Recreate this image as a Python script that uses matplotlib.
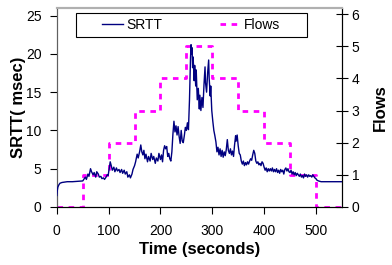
import matplotlib
matplotlib.use("Agg")
import matplotlib.pyplot as plt
from matplotlib.patches import Rectangle

# SRTT samples (time in s, SRTT in ms)
time_s = [0, 1, 2, 4, 6, 10, 15, 20, 30, 40, 50,
          52, 55, 57, 60, 62, 65, 67, 70, 72, 75, 77, 80, 82, 85, 87, 90, 92, 95, 97, 99,
          101, 103, 105, 107, 110, 112, 115, 117, 120, 122, 125, 127, 130, 132, 135, 137,
          140, 142, 145, 147, 150, 152, 155, 157, 160, 162, 164, 166, 168, 170, 172, 175,
          177, 180, 182, 185, 187, 190, 192, 195, 197, 200, 202, 204, 206, 208, 210, 212,
          214, 216, 218, 220, 222, 224, 226, 228, 230, 232, 234, 236, 238, 240, 242, 244,
          246, 248, 250, 252, 254, 256, 258, 259, 260, 261, 262, 263, 265, 266, 268, 269,
          271, 273, 275, 276, 278, 280, 282, 284, 286, 287, 289, 291, 293, 294, 296, 297,
          299, 301, 303, 305, 307, 309, 311, 313, 315, 317, 319, 321, 323, 325, 327, 329,
          331, 333, 335, 337, 339, 341, 343, 345, 346, 348, 350, 352, 354, 356, 358, 360,
          362, 364, 366, 368, 370, 372, 374, 376, 378, 380, 382, 384, 386, 388, 390, 392,
          394, 396, 398, 400, 402, 404, 406, 408, 410, 412, 414, 416, 418, 420, 422, 424,
          426, 428, 430, 432, 434, 436, 438, 440, 442, 444, 446, 448, 450, 452, 454, 456,
          458, 460, 462, 464, 466, 468, 470, 472, 474, 476, 478, 480, 482, 484, 486, 488,
          490, 492, 494, 496, 498, 500, 502, 505, 510, 550]
srtt_ms = [1.5, 2.2, 2.6, 2.9, 3.1, 3.2, 3.25, 3.3, 3.3, 3.35, 3.4,
           3.6, 3.9, 3.6, 4.3, 4.0, 5.0, 4.6, 4.2, 4.5, 3.9, 4.6, 4.3, 3.9, 4.0, 3.7, 3.8, 3.6, 3.9, 4.2, 4.1,
           5.0, 5.9, 5.4, 4.8, 5.2, 4.6, 5.1, 4.7, 4.9, 4.5, 4.9, 4.4, 4.8, 4.3, 4.6, 3.9,
           4.2, 3.8, 4.3, 4.9, 5.4, 5.9, 6.9, 6.4, 7.3, 8.1, 7.2, 6.8, 7.4, 6.3, 6.9, 5.9,
           6.6, 6.0, 7.0, 6.2, 6.6, 5.7, 6.4, 6.0, 7.0, 6.2, 6.8, 5.9, 7.4, 8.0, 7.6, 7.9,
           6.6, 7.0, 6.3, 6.0, 7.2, 9.5, 11.2, 9.8, 10.6, 9.4, 10.5, 9.2, 8.3, 10.0, 8.6, 8.4,
           9.3, 10.4, 10.0, 11.0, 10.1, 14.0, 19.5, 21.2, 20.0, 20.8, 18.2, 19.6, 16.5, 18.5, 15.8, 17.9,
           14.0, 15.5, 12.8, 14.6, 12.6, 14.3, 13.0, 16.0, 18.3, 16.2, 15.0, 17.5, 19.2, 16.8, 14.5, 15.8,
           12.6, 11.2, 10.0, 9.3, 8.5, 7.2, 7.8, 6.8, 7.6, 6.6, 7.4, 6.5, 7.2, 6.7, 7.5, 8.8,
           7.4, 7.0, 7.6, 6.8, 7.3, 6.6, 8.1, 9.3, 8.6, 9.4, 8.0, 7.0, 6.8, 6.0, 5.6, 6.0,
           5.4, 5.8, 5.5, 5.9, 5.6, 6.0, 6.3, 6.1, 6.8, 7.4, 7.0, 6.0, 5.7, 5.9, 5.5, 5.7,
           5.4, 5.9, 5.7, 5.2, 4.8, 5.1, 4.6, 5.0, 4.7, 5.0, 4.7, 5.1, 4.6, 4.9, 4.6, 5.0,
           4.5, 4.8, 4.4, 4.9, 4.6, 4.8, 4.3, 4.9, 5.1, 4.7, 5.0, 4.6, 4.5, 4.8, 4.3, 4.6,
           4.2, 4.5, 4.1, 4.4, 4.2, 4.0, 4.3, 3.9, 4.1, 3.8, 4.3, 4.0, 4.2, 3.9, 4.2, 4.0,
           4.1, 3.9, 4.2, 4.0, 3.8, 3.7, 3.5, 3.4, 3.3, 3.3]

# number of active flows (step changes every 50 s)
flow_time = [0, 50, 100, 150, 200, 250, 300, 350, 400, 450, 500, 550]
flow_count = [0, 1, 2, 3, 4, 5, 4, 3, 2, 1, 0, 0]

plt.rcParams["font.family"] = ["Liberation Sans", "DejaVu Sans"]
plt.rcParams["font.size"] = 10

fig = plt.figure(figsize=(3.92, 2.65), dpi=100)
ax = fig.add_axes([0.145, 0.219, 0.727, 0.751])
ax2 = ax.twinx()

l1, = ax.plot(time_s, srtt_ms, color="#000080", linewidth=1.0, label="SRTT", zorder=3)
l2, = ax2.step(flow_time, flow_count, where="post", color="#ff00ff", linewidth=2.0,
               linestyle=(0, (2, 2)), label="Flows", zorder=2)
ax.set_zorder(ax2.get_zorder() + 1)
ax.patch.set_visible(False)

ax.set_xlim(0, 550)
ax.set_ylim(0, 26)
ax2.set_ylim(0, 6.19)
ax.set_xticks([0, 100, 200, 300, 400, 500])
ax.set_yticks([0, 5, 10, 15, 20, 25])
ax2.set_yticks([0, 1, 2, 3, 4, 5, 6])

ax.set_xlabel("Time (seconds)", fontsize=12, fontweight="bold", labelpad=3)
ax.set_ylabel("SRTT( msec)", fontsize=12, fontweight="bold", labelpad=0)
ax2.set_ylabel("Flows", fontsize=12, fontweight="bold", labelpad=10)

ax.tick_params(axis="both", direction="out", length=5, width=0.8, pad=6)
ax.tick_params(axis="x", pad=7)
ax2.tick_params(axis="y", direction="inout", length=8, width=0.8, pad=3)

for a in (ax, ax2):
    a.spines["top"].set_color("#b0b0b0")
    a.spines["top"].set_linewidth(1.5)
    a.spines["left"].set_color("#606060")
    a.spines["right"].set_color("black")
    a.spines["bottom"].set_color("black")

# legend box drawn separately so the entries sit centred in a wide frame
ax.add_patch(Rectangle((0.067, 0.855), 0.81, 0.12, transform=ax.transAxes,
                       facecolor="white", edgecolor="black", linewidth=0.8,
                       clip_on=False, zorder=5))
leg = ax.legend([l1, l2], ["SRTT", "Flows"], ncol=2, loc="center",
                bbox_to_anchor=(0.472, 0.915), frameon=False,
                handlelength=1.5, handletextpad=0.25, columnspacing=4.1,
                borderaxespad=0, borderpad=0, fontsize=10)
leg.set_zorder(6)

fig.savefig("out.png", dpi=100)
